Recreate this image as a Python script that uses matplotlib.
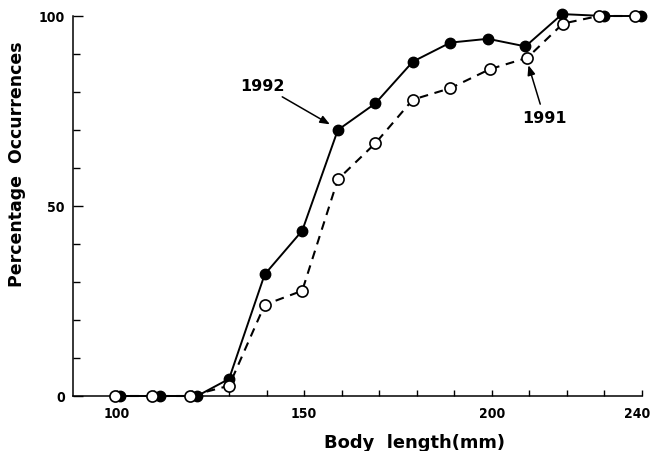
import matplotlib.pyplot as plt
from matplotlib import font_manager
from matplotlib.ticker import FixedLocator, MultipleLocator
from matplotlib.transforms import ScaledTranslation

# body length (mm) and percentage occurrences
length_1992 = [101, 111.5, 121.5, 130, 139.5, 149.5, 159, 169, 179, 189, 199, 209, 218.8, 230, 239.7]
pct_1992    = [0, 0, 0, 4.5, 32, 43.5, 70, 77, 88, 93, 94, 92, 100.5, 100, 100]
length_1991 = [99.5, 109.5, 119.5, 130, 139.5, 149.5, 159, 169, 179, 189, 199.5, 209.5, 219, 228.5, 238.2]
pct_1991    = [0, 0, 0, 2.7, 24, 27.7, 57, 66.5, 78, 81, 86, 89, 98, 100, 100]

x_major = [100, 150, 200, 240]
x_minor = [110, 120, 130, 140, 160, 170, 180, 190, 210, 220, 230]
y_major = [0, 50, 100]

# narrow bold digits for the tick labels, if a narrow face is installed
installed = {f.name for f in font_manager.fontManager.ttflist}
condensed = {f.name for f in font_manager.fontManager.ttflist
             if 'condensed' in str(f.stretch) or 'Condensed' in f.fname}
if 'Liberation Sans Narrow' in installed:
    tick_font = dict(family='Liberation Sans Narrow', weight='bold', size=11)
elif 'DejaVu Sans' in condensed:
    tick_font = dict(family='DejaVu Sans', stretch='condensed', weight='bold', size=10)
else:
    tick_font = dict(family='DejaVu Sans', weight='bold', size=9.8)

fig = plt.figure(figsize=(6.51, 4.52), dpi=100)
ax = fig.add_axes([73 / 651, 55 / 452, 568.7 / 651, 380 / 452])

# ── series ────────────────────────────────────────────────────────────────
ax.plot(length_1992, pct_1992, color='black', lw=1.4, marker='o', ms=7.5,
        mfc='black', mec='black', clip_on=False, zorder=3)
ax.plot(length_1991, pct_1991, color='black', lw=1.5, dashes=(4.2, 3.2),
        marker='o', ms=8, mfc='white', mec='black', mew=1.2,
        clip_on=False, zorder=4)

# ── annotations ───────────────────────────────────────────────────────────
arrow = dict(arrowstyle='-|>,head_length=0.5,head_width=0.2', lw=1.1,
             color='black', shrinkA=2, shrinkB=1)
ax.annotate('1992', xy=(157.2, 71.3), xytext=(138.8, 81.8), ha='center',
            va='center', fontsize=11.5, fontweight='bold', arrowprops=arrow)
ax.annotate('1991', xy=(209.7, 87.4), xytext=(214, 73.4), ha='center',
            va='center', fontsize=11.5, fontweight='bold', arrowprops=arrow)

# ── axes ──────────────────────────────────────────────────────────────────
ax.set_xlim(88.4, 240)
ax.set_ylim(0, 100)
for s in ['top', 'right']:
    ax.spines[s].set_visible(False)
for s in ['left', 'bottom']:
    ax.spines[s].set_linewidth(1.1)

ax.xaxis.set_major_locator(FixedLocator(x_major))
ax.xaxis.set_minor_locator(FixedLocator(x_minor))
ax.yaxis.set_major_locator(FixedLocator(y_major))
ax.yaxis.set_minor_locator(MultipleLocator(10))

ax.tick_params(axis='x', which='both', direction='in', length=4.5, width=1, pad=7)
ax.tick_params(axis='y', which='major', direction='in', length=7, width=1, pad=6)
ax.tick_params(axis='y', which='minor', direction='in', length=5, width=1)
ax.set_xticklabels([str(v) for v in x_major], fontdict=tick_font)
ax.set_yticklabels([str(v) for v in y_major], fontdict=tick_font)

# last x label sits flush with the right edge in the original
last = ax.get_xticklabels()[-1]
last.set_ha('right')
last.set_transform(last.get_transform() + ScaledTranslation(0.085, 0, fig.dpi_scale_trans))

fig.text(414 / 651, 1 - 448 / 452, 'Body  length(mm)', ha='center',
         va='baseline', fontsize=12.9, fontweight='bold')
fig.text(17 / 651, 1 - 164 / 452, 'Percentage  Occurrences', ha='center',
         va='center', rotation=90, fontsize=12.5, fontweight='bold')

fig.savefig('out.png', dpi=100)
